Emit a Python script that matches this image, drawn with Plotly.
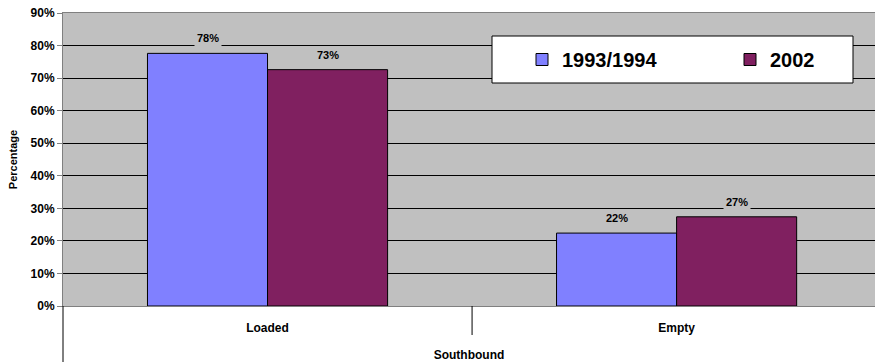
import plotly.graph_objects as go

# Share of southbound trucks by load status
categories = ["Loaded", "Empty"]
series_names = ["1993/1994", "2002"]
values_9394 = [0.776, 0.224]
values_2002 = [0.726, 0.274]
y_ticks = [0.0, 0.1, 0.2, 0.3, 0.4, 0.5, 0.6, 0.7, 0.8, 0.9]

FONT = "Liberation Sans, Arial, sans-serif"
BLUE = "#8080FF"
PLUM = "#802060"
PLOT_BG = "#C0C0C0"

fig = go.Figure()
for name, vals, color in [(series_names[0], values_9394, BLUE),
                          (series_names[1], values_2002, PLUM)]:
    fig.add_trace(go.Bar(
        x=categories, y=vals, name=name,
        marker=dict(color=color, line=dict(color="#000000", width=1)),
    ))

# value labels above each bar, with a background that masks the gridlines
for shift, vals in [(-60, values_9394), (60, values_2002)]:
    for cat, v in zip(categories, vals):
        fig.add_annotation(
            x=cat, y=v, xref="x", yref="y",
            text=f"{round(v * 100)}%", showarrow=False,
            xshift=shift, yshift=15, yanchor="middle",
            bgcolor=PLOT_BG, borderpad=2,
            font=dict(family=FONT, size=11, color="#000000", weight="bold"),
        )

# legend frame
fig.add_shape(type="rect", xref="paper", yref="paper",
              x0=(492 - 63) / 812, x1=(853 - 63) / 812,
              y0=(306 - 83) / 293, y1=(306 - 36) / 293,
              fillcolor="#FFFFFF", line=dict(color="#000000", width=1),
              layer="above")

# divider between the two categories and the extended left axis line
fig.add_shape(type="line", xref="x", yref="paper", x0=0.5, x1=0.5,
              y0=0, y1=-29 / 293, line=dict(color="#000000", width=1))
fig.add_shape(type="line", xref="paper", yref="paper", x0=0, x1=0,
              y0=0, y1=-56 / 293, line=dict(color="#000000", width=1))

fig.update_layout(
    width=875, height=362,
    margin=dict(l=63, r=0, t=13, b=56, pad=0, autoexpand=False),
    paper_bgcolor="#FFFFFF", plot_bgcolor=PLOT_BG,
    barmode="group", bargap=0.413, bargroupgap=0,
    font=dict(family=FONT, size=12, color="#000000", weight="bold"),
    showlegend=True,
    legend=dict(
        orientation="h", x=(522 - 63) / 812, xanchor="left",
        y=(306 - 59.5) / 293, yanchor="middle",
        bgcolor="rgba(0,0,0,0)", borderwidth=0,
        entrywidth=163, entrywidthmode="pixels",
        font=dict(family=FONT, size=20, color="#000000", weight="bold"),
        traceorder="normal",
    ),
    xaxis=dict(
        type="category", range=[-0.5, 1.485],
        showgrid=False, zeroline=False,
        showline=True, linecolor="#808080", linewidth=1, mirror=True,
        ticks="",
        tickfont=dict(family=FONT, size=12, weight="bold"),
        ticklabelstandoff=11,
        title=dict(text="Southbound", standoff=18,
                   font=dict(family=FONT, size=12, weight="bold")),
    ),
    yaxis=dict(
        range=[0, 0.9], tickvals=y_ticks, tickformat=".0%",
        showgrid=True, gridcolor="#000000", gridwidth=1,
        zeroline=False, showline=True, linecolor="#808080", linewidth=1,
        ticks="outside", ticklen=5, tickcolor="#808080",
        tickfont=dict(family=FONT, size=12, weight="bold"),
        title=dict(text="Percentage", standoff=10,
                   font=dict(family=FONT, size=11, weight="bold")),
        mirror=True,
    ),
)

fig.write_html("out.html")
